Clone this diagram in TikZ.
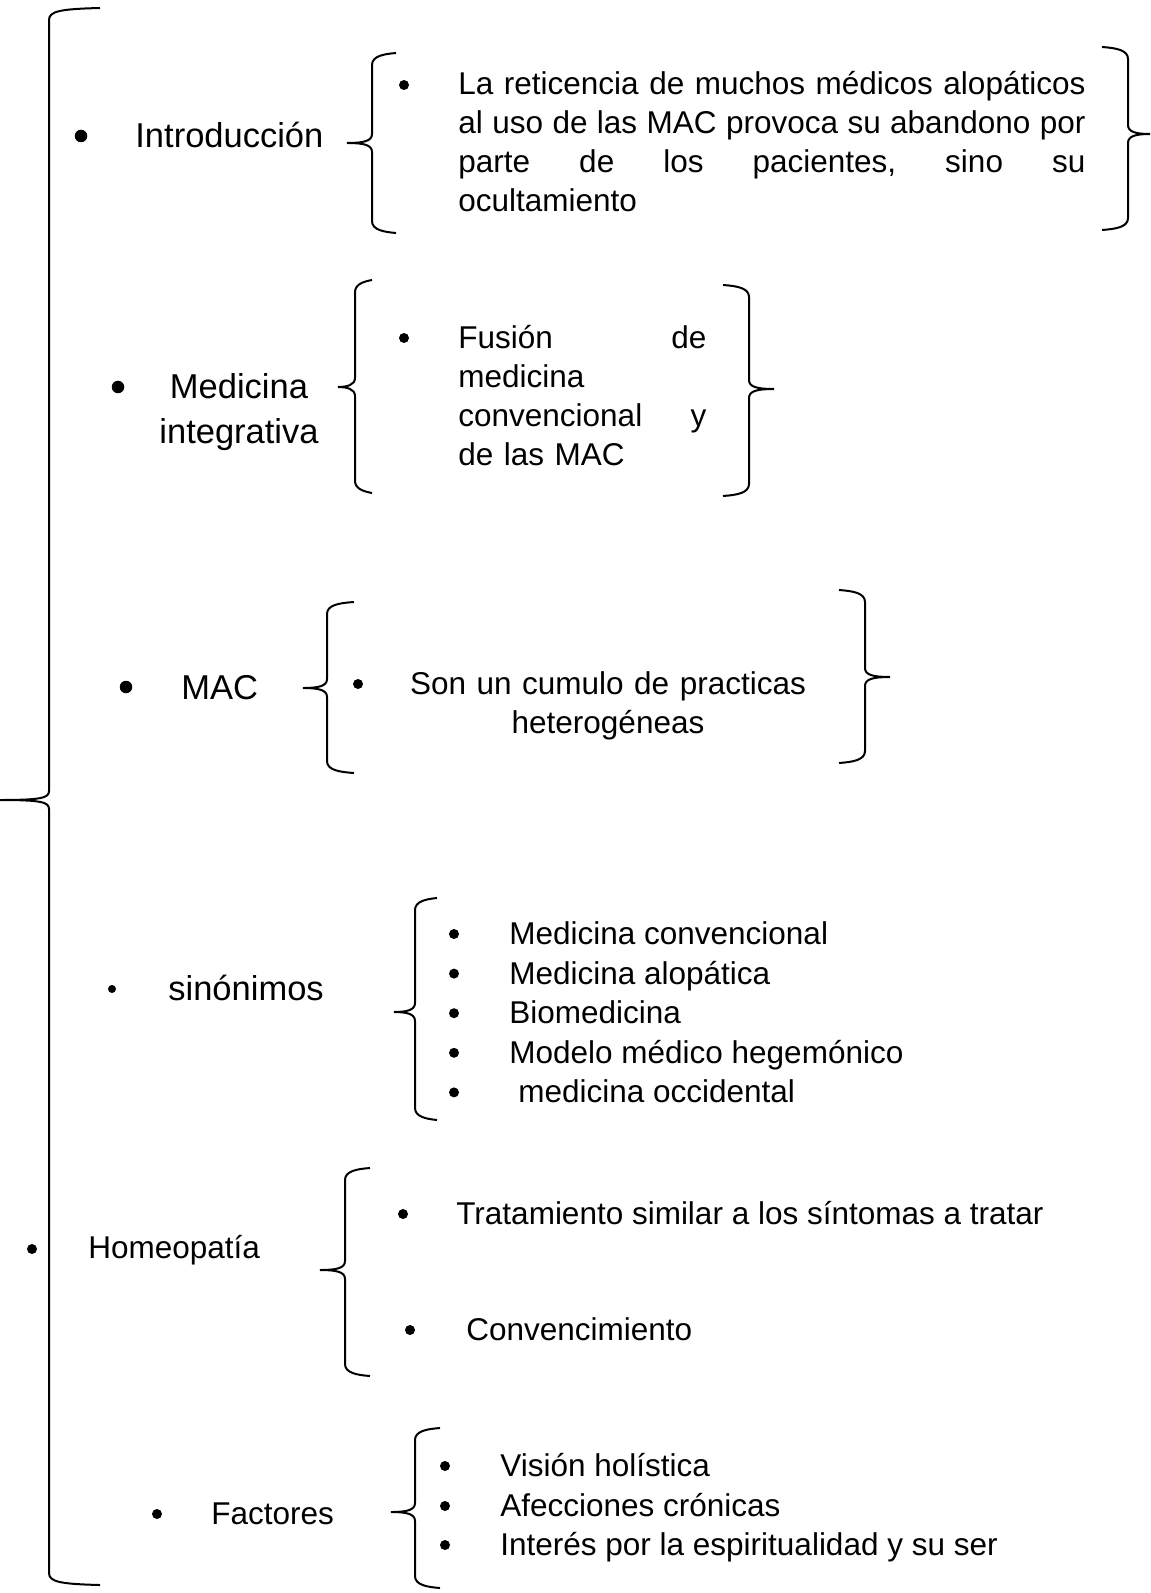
\documentclass[tikz,border=0pt]{standalone}
\usepackage{fontspec}
\setmainfont{Liberation Sans}
% braces: line x, hook end x, tip x, top y, tip y, bottom y
\newcommand{\leftcurl}[6]{\draw[curl] (#2,#4) .. controls (#1+12,#4+1) and (#1,#4+3) .. (#1,#4+12) -- (#1,#5-9) .. controls (#1,#5-2) and (#1-8,#5) .. (#3,#5) .. controls (#1-8,#5) and (#1,#5+2) .. (#1,#5+9) -- (#1,#6-12) .. controls (#1,#6-3) and (#1+12,#6-1) .. (#2,#6);}
\newcommand{\rightcurl}[6]{\draw[curl] (#2,#4) .. controls (#1-12,#4+1) and (#1,#4+3) .. (#1,#4+12) -- (#1,#5-9) .. controls (#1,#5-2) and (#1+8,#5) .. (#3,#5) .. controls (#1+8,#5) and (#1,#5+2) .. (#1,#5+9) -- (#1,#6-12) .. controls (#1,#6-3) and (#1-12,#6-1) .. (#2,#6);}
% justified line
\newcommand{\fillline}[1]{\makebox[\linewidth][s]{\frenchspacing\spaceskip=0.278em plus 1fil\xspaceskip=0pt\relax #1}}

\begin{document}
\begin{tikzpicture}[x=0.5pt, y=-0.5pt, curl/.style={line width=1pt}]
	\tikzstyle{head}=[inner sep=0pt, anchor=base west, font=\fontsize{17.25}{22.35}\selectfont]
	\tikzstyle{item}=[inner sep=0pt, anchor=base west, font=\fontsize{15.75}{19.5}\selectfont]
	\tikzstyle{dotbig}=[circle, fill=black, inner sep=0pt, minimum size=6.25pt]
	\tikzstyle{dotmid}=[circle, fill=black, inner sep=0pt, minimum size=5pt]
	\tikzstyle{dotsmall}=[circle, fill=black, inner sep=0pt, minimum size=4pt]
	\useasboundingbox (0,0) rectangle (1150,1593);

	% Big brace
	\leftcurl{49}{100}{0}{8}{800}{1585}

	% Introduccion
	\node[dotbig] (introdot) at (81,136) {};
	\node[head] (intro) at (135,148) {Introducción};
	\leftcurl{372}{396}{347}{53}{143}{233}
	\node[dotmid] (introsubdot) at (404,85) {};
	\node[item, text width=313.5pt, align=left] (introsub) at (458,94.5) {\fillline{La reticencia de muchos médicos alopáticos}\\\fillline{al uso de las MAC provoca su abandono por}\\\fillline{parte de los pacientes, sino su}\\ocultamiento};
	\rightcurl{1128}{1102}{1150}{47}{134}{230}

	% Medicina integrativa
	\node[dotbig] (meddot) at (118,387) {};
	\node[head, anchor=base, text width=100pt, align=center] (med) at (239,399) {Medicina\\integrativa};
	\leftcurl{355}{372}{338}{280}{387}{493}
	\node[dotmid] (medsubdot) at (404,338) {};
	\node[item, text width=124pt, align=left] (medsub) at (458,348.5) {\fillline{Fusión de}\\medicina\\\fillline{convencional y}\\de las MAC};
	\rightcurl{749}{723}{774}{285}{389}{496}

	% MAC
	\node[dotbig] (macdot) at (126,687) {};
	\node[head] (mac) at (181,699) {MAC};
	\leftcurl{327}{354}{303}{602}{688}{773}
	\node[dotmid] (macsubdot) at (358,684) {};
	\node[item, anchor=base, text width=200pt, align=center] (macsub) at (608,694.5) {Son un cumulo de practicas\\heterogéneas};
	\rightcurl{865}{839}{890}{590}{677}{763}

	% sinonimos
	\node[dotsmall] (sindot) at (112,989) {};
	\node[head] (sin) at (168,1000) {sinónimos};
	\leftcurl{415}{437}{394}{898}{1012}{1120}
	\node[dotmid] (sindot1) at (454,934) {};
	\node[item] (sin1) at (509,944.5) {Medicina convencional};
	\node[dotmid] (sindot2) at (454,973.6) {};
	\node[item] (sin2) at (509,984.1) {Medicina alopática};
	\node[dotmid] (sindot3) at (454,1013.2) {};
	\node[item] (sin3) at (509,1023.7) {Biomedicina};
	\node[dotmid] (sindot4) at (454,1052.8) {};
	\node[item] (sin4) at (509,1063.3) {Modelo médico hegemónico};
	\node[dotmid] (sindot5) at (454,1092.4) {};
	\node[item] (sin5) at (518,1102.9) {medicina occidental};

	% Homeopatia
	\node[dotmid] (homdot) at (32,1249) {};
	\node[item] (hom) at (88,1258) {Homeopatía};
	\leftcurl{345}{370}{320}{1168}{1270}{1376}
	\node[dotmid] (homdot1) at (403,1214) {};
	\node[item] (hom1) at (456,1224.5) {Tratamiento similar a los síntomas a tratar};
	\node[dotmid] (homdot2) at (410,1330) {};
	\node[item] (hom2) at (466,1340.5) {Convencimiento};

	% Factores
	\node[dotmid] (facdot) at (157,1514) {};
	\node[item] (fac) at (211,1524.5) {Factores};
	\leftcurl{415}{440}{391}{1428}{1512}{1588}
	\node[dotmid] (facdot1) at (445,1466) {};
	\node[item] (fac1) at (500,1476.5) {Visión holística};
	\node[dotmid] (facdot2) at (445,1506) {};
	\node[item] (fac2) at (500,1516.5) {Afecciones crónicas};
	\node[dotmid] (facdot3) at (445,1545) {};
	\node[item] (fac3) at (500,1555.5) {Interés por la espiritualidad y su ser};
\end{tikzpicture}
\end{document}
